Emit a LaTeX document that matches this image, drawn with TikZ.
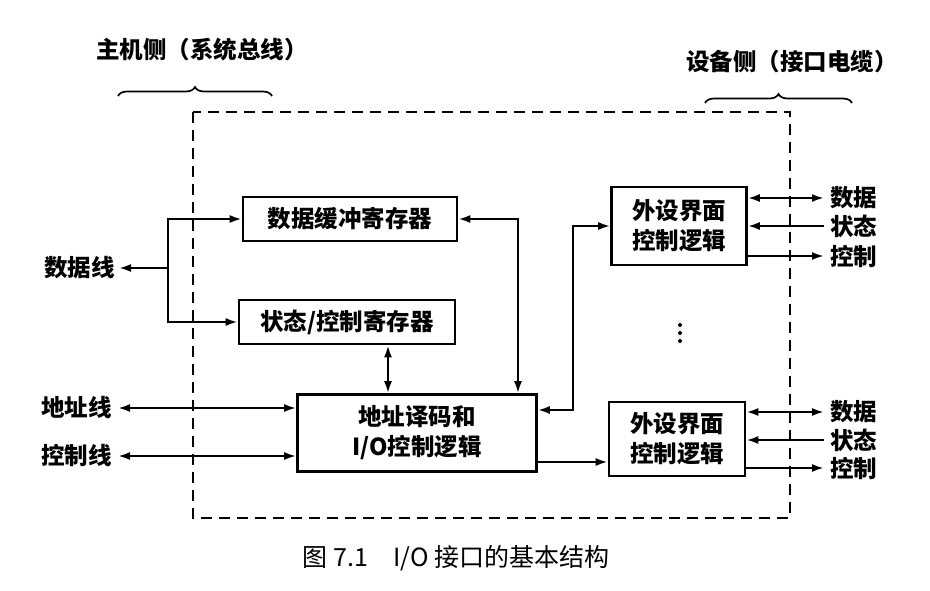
\documentclass[tikz,border=0pt]{standalone}
\usepackage{fontspec}
\setmainfont{Noto Sans CJK SC}
\usetikzlibrary{positioning,arrows.meta,decorations.pathreplacing}

\begin{document}
\begin{tikzpicture}[x=1pt, y=-1pt,
  txt/.style={font=\fontsize{23.5pt}{30pt}\selectfont\bfseries, inner sep=0pt},
  regbox/.style={txt, draw, line width=2.6pt, align=center},
  conn/.style={line width=2.2pt, -{Latex[length=12pt,width=8pt]}},
  biconn/.style={line width=2.2pt, {Latex[length=12pt,width=8pt]}-{Latex[length=12pt,width=8pt]}}]
\useasboundingbox (0,0) rectangle (930,590);
% frame and the two sides
\draw[line width=1.9pt, dash pattern=on 11pt off 7pt] (193,112) rectangle (790,518);
\node[txt] (host) at (202,50) {主机侧（系统总线）};
\node[txt] (dev) at (792,62) {设备侧（接口电缆）};
\draw[decorate, decoration={brace, amplitude=9pt}, line width=1.7pt] (118,96) -- (272,96);
\draw[decorate, decoration={brace, amplitude=9pt}, line width=1.7pt] (705,103) -- (852,103);
% boxes
\node[regbox, minimum width=214pt, minimum height=44pt] (buf) at (350,219) {数据缓冲寄存器};
\node[regbox, minimum width=216pt, minimum height=44pt] (stat) at (347,322) {状态/控制寄存器};
\node[regbox, minimum width=239pt, minimum height=77pt] (dec) at (417,433) {地址译码和\\I/O控制逻辑};
\node[regbox, minimum width=135pt, minimum height=78pt] (dev1) at (679,226) {外设界面\\控制逻辑};
\node[regbox, minimum width=136pt, minimum height=74pt] (dev2) at (677,439) {外设界面\\控制逻辑};
% the dots between the two device boxes
\fill (680,325) circle (2pt) (680,333) circle (2pt) (680,341) circle (2pt);
% host side lines
\node[txt, anchor=east] (dline) at (115,268) {数据线};
\node[txt, anchor=east] (aline) at (112,408) {地址线};
\node[txt, anchor=east] (cline) at (112,456) {控制线};
\coordinate (jn) at (168,268);
\draw[conn] (jn) -- ([xshift=4pt]dline.east);
\draw[conn] (jn) |- (buf.west);
\draw[conn] (jn) |- (stat.west);
\draw[biconn] ([xshift=6pt]aline.east) -- (aline.east -| dec.west);
\draw[biconn] ([xshift=6pt]cline.east) -- (cline.east -| dec.west);
\draw[biconn] ([xshift=41pt]stat.south) -- ([xshift=41pt]stat.south |- dec.north);
\draw[biconn] (buf.east) -| ([xshift=101pt]dec.north);
\draw[biconn] ([yshift=23pt]dec.east) -- ++(35,0) |- (dev1.west);
\coordinate (decR) at ([yshift=-29pt]dec.east);
\draw[conn] (decR) -- (decR -| dev2.west);
% device side lines
\node[txt, anchor=west] (data1) at (830,198) {数据};
\node[txt, anchor=west] (st1) at (830,226) {状态};
\node[txt, anchor=west] (ctl1) at (830,256) {控制};
\node[txt, anchor=west] (data2) at (830,412) {数据};
\node[txt, anchor=west] (st2) at (830,440) {状态};
\node[txt, anchor=west] (ctl2) at (830,468) {控制};
\draw[biconn] (data1.west -| dev1.east) -- ([xshift=-6pt]data1.west);
\draw[conn] ([xshift=-6pt]st1.west) -- (st1.west -| dev1.east);
\draw[conn] (ctl1.west -| dev1.east) -- ([xshift=-6pt]ctl1.west);
\draw[biconn] (data2.west -| dev2.east) -- ([xshift=-6pt]data2.west);
\draw[conn] ([xshift=-6pt]st2.west) -- (st2.west -| dev2.east);
\draw[conn] (ctl2.west -| dev2.east) -- ([xshift=-6pt]ctl2.west);
% caption
\node[font=\fontsize{25pt}{25pt}\selectfont, inner sep=0pt] (cap) at (456,558) {图 7.1\quad I/O 接口的基本结构};
\end{tikzpicture}
\end{document}
